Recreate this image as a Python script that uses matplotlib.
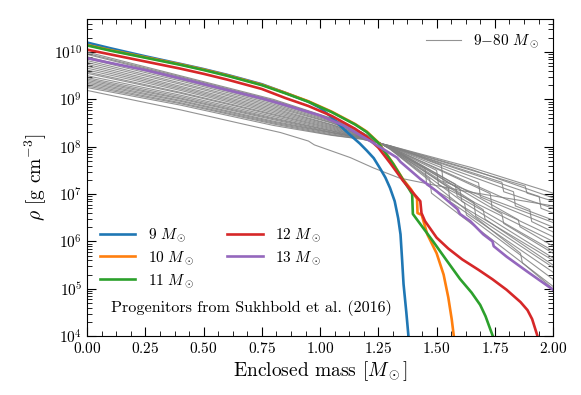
import numpy as np
import matplotlib
matplotlib.use("Agg")
import matplotlib.pyplot as plt
from matplotlib.ticker import MultipleLocator, LogLocator, NullFormatter

plt.rcParams['font.family'] = 'serif'
plt.rcParams['font.serif'] = ['cmr10']
plt.rcParams['mathtext.fontset'] = 'cm'
plt.rcParams['axes.formatter.use_mathtext'] = True
plt.rcParams['axes.unicode_minus'] = False

# coloured progenitors: enclosed mass [Msun] and log10(rho) [g cm^-3]
m9 = [0, 0.1, 0.25, 0.4, 0.5, 0.6, 0.75, 0.85, 0.95, 1.0, 1.05, 1.10, 1.14, 1.17, 1.20, 1.23, 1.26, 1.28, 1.30,
      1.32, 1.335, 1.345, 1.352, 1.358, 1.37, 1.38]
r9 = [10.20, 10.08, 9.91, 9.75, 9.64, 9.52, 9.32, 9.14, 8.95, 8.82, 8.62, 8.38, 8.20, 8.07, 7.92, 7.76, 7.52, 7.35, 7.13,
      6.85, 6.49, 6.15, 5.60, 5.10, 4.50, 3.95]

m11 = [0, 0.1, 0.25, 0.4, 0.5, 0.6, 0.75, 0.85, 0.95, 1.05, 1.15, 1.2, 1.25, 1.28, 1.313, 1.356, 1.38, 1.395,
       1.398, 1.44, 1.485, 1.54, 1.60, 1.65, 1.687, 1.71, 1.73, 1.745]
r11 = [10.14, 10.03, 9.88, 9.73, 9.62, 9.50, 9.30, 9.13, 8.95, 8.73, 8.47, 8.31, 8.08, 7.87, 7.64, 7.30, 7.12, 7.00,
       6.58, 6.30, 6.00, 5.62, 5.21, 4.92, 4.66, 4.42, 4.15, 3.95]

m10 = [0, 0.1, 0.25, 0.4, 0.5, 0.6, 0.75, 0.85, 0.95, 1.05, 1.15, 1.2, 1.25, 1.28, 1.313, 1.356, 1.39, 1.405,
       1.416, 1.418, 1.436, 1.46, 1.50, 1.53, 1.55, 1.565, 1.575]
r10 = [10.15, 10.04, 9.89, 9.74, 9.63, 9.51, 9.31, 9.14, 8.96, 8.74, 8.48, 8.32, 8.09, 7.88, 7.65, 7.31, 7.10, 6.98,
       6.90, 6.60, 6.56, 6.15, 5.75, 5.30, 4.82, 4.35, 3.95]

m12 = [0, 0.1, 0.25, 0.4, 0.5, 0.6, 0.75, 0.85, 0.95, 1.05, 1.15, 1.2, 1.25, 1.30, 1.356, 1.40, 1.43, 1.435,
       1.45, 1.50, 1.55, 1.61, 1.68, 1.74, 1.80, 1.86, 1.89, 1.91, 1.935]
r12 = [10.05, 9.95, 9.80, 9.65, 9.54, 9.42, 9.22, 9.03, 8.86, 8.65, 8.38, 8.21, 7.98, 7.66, 7.28, 7.02, 6.85, 6.60,
       6.43, 6.08, 5.85, 5.62, 5.40, 5.20, 4.98, 4.72, 4.55, 4.36, 3.97]

m13 = [0, 0.1, 0.25, 0.42, 0.6, 0.75, 0.85, 1.0, 1.1, 1.215, 1.33, 1.345, 1.43, 1.50, 1.59, 1.60, 1.644, 1.70,
       1.74, 1.745, 1.80, 1.89, 2.0]
r13 = [9.87, 9.77, 9.62, 9.42, 9.20, 9.02, 8.88, 8.66, 8.45, 8.12, 7.77, 7.68, 7.32, 7.06, 6.68, 6.58, 6.43, 6.15,
       6.00, 5.90, 5.68, 5.36, 4.98]

# 9-80 Msun grid (grey), one list per model
grey_m = [
    [0, 0.4, 0.8, 1.05, 1.18, 1.3, 1.47, 1.478, 2.0],
    [0, 0.4, 0.8, 1.05, 1.18, 1.3, 1.86, 1.868, 2.0],
    [0, 0.4, 0.8, 1.05, 1.18, 1.3, 1.62, 1.628, 2.0],
    [0, 0.4, 0.8, 1.05, 1.18, 1.3, 1.55, 1.558, 2.0],
    [0, 0.4, 0.8, 1.05, 1.18, 1.3, 1.70, 1.708, 2.0],
    [0, 0.4, 0.8, 1.05, 1.18, 1.3, 1.45, 1.458, 2.0],
    [0, 0.4, 0.8, 1.05, 1.18, 1.3, 1.78, 1.788, 2.0],
    [0, 0.4, 0.8, 1.05, 1.18, 1.3, 1.66, 1.668, 2.0],
    [0, 0.4, 0.8, 1.05, 1.18, 1.3, 1.85, 1.858, 2.0],
    [0, 0.4, 0.8, 1.05, 1.18, 1.3, 1.50, 1.508, 2.0],
    [0, 0.4, 0.8, 1.05, 1.18, 1.3, 1.58, 1.588, 2.0],
    [0, 0.4, 0.8, 1.05, 1.18, 1.3, 1.73, 1.738, 2.0],
    [0, 0.4, 0.8, 1.05, 1.18, 1.3, 1.90, 1.908, 2.0],
    [0, 0.4, 0.8, 1.05, 1.18, 1.3, 1.60, 1.608, 2.0],
    [0, 0.4, 0.8, 1.05, 1.18, 1.3, 1.68, 1.688, 2.0],
    [0, 0.4, 0.8, 1.05, 1.18, 1.3, 1.83, 1.838, 2.0],
    [0, 0.4, 0.8, 1.05, 1.18, 1.3, 1.94, 1.948, 2.0],
    [0, 0.4, 0.8, 1.05, 1.18, 1.3, 1.78, 1.788, 2.0],
    [0, 0.4, 0.8, 1.05, 1.18, 1.3, 1.88, 1.888, 2.0],
    [0, 0.4, 0.8, 1.05, 1.18, 1.3, 1.65, 2.0],
    [0, 0.4, 0.8, 1.05, 1.18, 1.3, 1.65, 2.0],
    [0, 0.4, 0.8, 1.05, 1.18, 1.3, 1.52, 1.528, 2.0],
    [0, 0.4, 0.83, 0.95, 0.975, 1.13, 1.23, 1.34, 1.6, 2.0],
]
grey_r = [
    [10.00, 9.50, 9.00, 8.60, 8.30, 7.95, 7.32, 7.02, 5.05],
    [9.97, 9.48, 8.98, 8.59, 8.30, 7.95, 5.75, 5.55, 5.00],
    [9.95, 9.46, 8.96, 8.58, 8.30, 7.96, 6.81, 6.56, 5.20],
    [9.90, 9.42, 8.93, 8.55, 8.29, 7.96, 7.14, 6.84, 5.35],
    [9.86, 9.39, 8.90, 8.53, 8.27, 7.96, 6.67, 6.47, 5.50],
    [9.82, 9.35, 8.87, 8.51, 8.27, 7.97, 7.54, 7.19, 5.60],
    [9.78, 9.32, 8.84, 8.50, 8.26, 7.97, 6.58, 6.38, 5.75],
    [9.74, 9.28, 8.81, 8.47, 8.25, 7.98, 6.83, 6.53, 5.45],
    [9.70, 9.25, 8.78, 8.46, 8.25, 7.98, 6.46, 6.31, 5.90],
    [9.66, 9.22, 8.75, 8.44, 8.24, 7.98, 7.50, 7.20, 6.00],
    [9.62, 9.19, 8.72, 8.42, 8.23, 7.99, 7.21, 6.96, 5.80],
    [9.58, 9.15, 8.69, 8.40, 8.22, 7.99, 7.01, 6.71, 6.10],
    [9.55, 9.13, 8.67, 8.38, 8.21, 7.99, 6.67, 6.42, 6.20],
    [9.50, 9.09, 8.64, 8.36, 8.21, 8.00, 7.10, 6.85, 5.65],
    [9.46, 9.06, 8.61, 8.34, 8.20, 8.00, 7.24, 6.94, 6.30],
    [9.43, 9.03, 8.59, 8.33, 8.19, 8.00, 7.05, 6.75, 6.45],
    [9.40, 9.01, 8.57, 8.31, 8.19, 8.01, 6.95, 6.70, 6.60],
    [9.37, 8.98, 8.54, 8.30, 8.18, 8.01, 7.25, 7.05, 6.70],
    [9.34, 8.96, 8.52, 8.29, 8.18, 8.01, 7.17, 7.02, 6.85],
    [9.31, 8.93, 8.50, 8.27, 8.17, 8.02, 7.52, 6.92],
    [9.28, 8.91, 8.48, 8.25, 8.16, 8.02, 7.56, 7.02],
    [9.25, 8.88, 8.45, 8.24, 8.16, 8.02, 7.62, 7.27, 6.40],
    [9.19, 8.78, 8.30, 8.12, 8.04, 7.77, 7.55, 7.34, 7.08, 6.75],
]

labels = [r'$9\ M_\odot$', r'$10\ M_\odot$', r'$11\ M_\odot$', r'$12\ M_\odot$', r'$13\ M_\odot$']
colors = ['C0', 'C1', 'C2', 'C3', 'C4']

fig = plt.figure(figsize=(5.81, 3.95), dpi=100)
ax = fig.add_axes([0.150, 0.149, 0.802, 0.803])

for gm, gr in zip(grey_m, grey_r):
    gline, = ax.plot(gm, 10**np.array(gr), color='gray', lw=0.8, alpha=0.85)

cl = []
for m, r, lab, c in zip([m9, m10, m11, m12, m13], [r9, r10, r11, r12, r13], labels, colors):
    l, = ax.plot(m, 10**np.array(r), color=c, lw=1.9, label=lab)
    cl.append(l)

ax.set_yscale('log')
ax.set_xlim(0, 2)
ax.set_ylim(1e4, 5e10)
ax.xaxis.set_major_locator(MultipleLocator(0.25))
ax.xaxis.set_minor_locator(MultipleLocator(0.0625))
ax.yaxis.set_major_locator(LogLocator(base=10, numticks=20))
ax.yaxis.set_minor_locator(LogLocator(base=10, subs=np.arange(2, 10), numticks=20))
ax.yaxis.set_minor_formatter(NullFormatter())
ax.tick_params(which='both', direction='in', top=True, right=True, labelsize=11)
ax.tick_params(which='major', length=6.5)
ax.tick_params(which='minor', length=3.5)

ax.set_xlabel(r'Enclosed mass [$M_\odot$]', fontsize=14, labelpad=2)
ax.set_ylabel(r'$\rho$ [g cm$^{-3}$]', fontsize=14, labelpad=4)

leg1 = ax.legend([gline], [r'9$-$80 $M_\odot$'], loc='upper right', frameon=False,
                 fontsize=11, handlelength=2.3)
ax.add_artist(leg1)
ax.legend(handles=cl, loc='upper left', bbox_to_anchor=(0.028, 0.345), ncol=2,
          frameon=False, fontsize=11, handlelength=2.3, borderpad=0, borderaxespad=0,
          labelspacing=0.35, columnspacing=2.2)

ax.text(0.052, 0.088, 'Progenitors from Sukhbold et al. (2016)', transform=ax.transAxes,
        fontsize=11.6, va='center', ha='left')

fig.savefig('out.png', dpi=100)
